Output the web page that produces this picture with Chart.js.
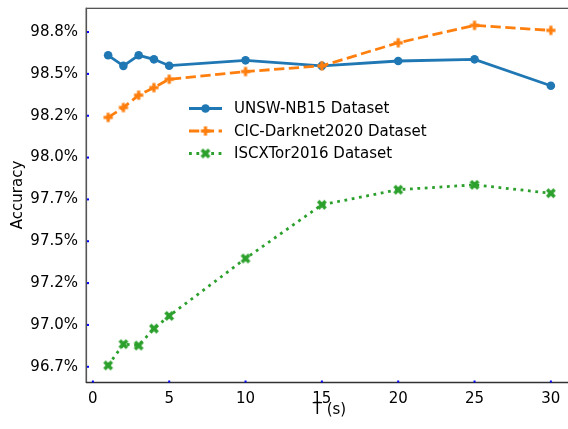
<!DOCTYPE html>
<html>
<head>
<meta charset="utf-8">
<script src="https://cdn.jsdelivr.net/npm/chart.js@4/dist/chart.umd.min.js"></script>
<style>
html,body{margin:0;padding:0;background:#fff;overflow:hidden;width:568px;height:429px;}
#wrap{width:600px;height:429px;position:absolute;left:0;top:0;}
canvas{display:block;}
</style>
</head>
<body>
<div id="wrap"><canvas id="c" width="600" height="429" style="width:600px;height:429px"></canvas></div>
<script>
// ---- data ----
const T = [1, 2, 3, 4, 5, 10, 15, 20, 25, 30];
const unsw = [98.611, 98.548, 98.611, 98.587, 98.549, 98.581, 98.548, 98.577, 98.587, 98.429];
const darknet = [98.240, 98.299, 98.373, 98.418, 98.468, 98.514, 98.548, 98.686, 98.790, 98.760];
const iscx = [96.758, 96.885, 96.877, 96.978, 97.054, 97.397, 97.718, 97.808, 97.837, 97.787];
const seriesNames = ['UNSW-NB15 Dataset', 'CIC-Darknet2020 Dataset', 'ISCXTor2016 Dataset'];
const yTickValues = [96.75, 97.0, 97.25, 97.5, 97.75, 98.0, 98.25, 98.5, 98.75];
const yTickLabels = ['96.7%', '97.0%', '97.2%', '97.5%', '97.7%', '98.0%', '98.2%', '98.5%', '98.8%'];
const xTickValues = [0, 5, 10, 15, 20, 25, 30];
const xTickLabels = ['0', '5', '10', '15', '20', '25', '30'];
const xTitle = 'T (s)';

const BLUE = '#1f77b4', ORANGE = '#ff7f0e', GREEN = '#2ca02c';
const FONT = 'DejaVu Sans';

function makeMarker(kind, color) {
  const s = 12, c = document.createElement('canvas');
  c.width = s; c.height = s;
  const g = c.getContext('2d');
  g.fillStyle = color;
  g.translate(s / 2, s / 2);
  if (kind === 'X') g.rotate(Math.PI / 4);
  const a = kind === 'X' ? 5.2 : 4.6, w = kind === 'X' ? 1.8 : 1.6;
  g.fillRect(-a, -w, 2 * a, 2 * w);
  g.fillRect(-w, -a, 2 * w, 2 * a);
  return c;
}
const plusMarker = makeMarker('P', ORANGE);
const xMarker = makeMarker('X', GREEN);

const pts = ys => T.map((t, i) => ({x: t, y: ys[i]}));

const LW = 2.78;
const datasets = [
  {label: seriesNames[0], data: pts(unsw), borderColor: BLUE, backgroundColor: BLUE,
   borderWidth: LW, pointStyle: 'circle', pointRadius: 4.3, pointBorderWidth: 0, order: 3},
  {label: seriesNames[1], data: pts(darknet), borderColor: ORANGE, backgroundColor: ORANGE,
   borderWidth: LW, borderDash: [10.3, 4.5], pointStyle: plusMarker, pointRadius: 5, order: 2},
  {label: seriesNames[2], data: pts(iscx), borderColor: GREEN, backgroundColor: GREEN,
   borderWidth: LW, borderDash: [2.8, 4.6], pointStyle: xMarker, pointRadius: 5, order: 1}
];
datasets.forEach(d => { d.tension = 0; d.fill = false; d.borderCapStyle = 'butt'; d.pointHoverRadius = d.pointRadius; });

const decor = {
  id: 'decor',
  afterDraw(chart) {
    const {ctx, chartArea: a, scales} = chart;
    ctx.save();
    // spines
    ctx.strokeStyle = '#222'; ctx.lineWidth = 1;
    ctx.beginPath(); ctx.moveTo(a.left, a.top + 0.5); ctx.lineTo(a.right, a.top + 0.5); ctx.stroke();
    ctx.strokeStyle = '#555'; ctx.lineWidth = 1.6;
    ctx.beginPath(); ctx.moveTo(a.left + 0.3, a.top); ctx.lineTo(a.left + 0.3, a.bottom + 1); ctx.stroke();
    ctx.strokeStyle = '#333'; ctx.lineWidth = 1.6;
    ctx.beginPath(); ctx.moveTo(a.left, a.bottom + 0.5); ctx.lineTo(a.right, a.bottom + 0.5); ctx.stroke();
    // blue tick dots inside axes
    ctx.fillStyle = '#0000ff';
    yTickValues.forEach(v => {
      const y = scales.y.getPixelForValue(v);
      ctx.fillRect(a.left + 1, y - 1, 2, 2);
    });
    xTickValues.forEach(v => {
      const x = scales.x.getPixelForValue(v);
      ctx.fillRect(x - 1, a.bottom - 1.5, 2, 2);
    });
    // x tick labels and title
    ctx.font = '15px "' + FONT + '"';
    ctx.fillStyle = '#000';
    ctx.textAlign = 'center';
    ctx.textBaseline = 'alphabetic';
    xTickValues.forEach((v, i) => {
      ctx.fillText(xTickLabels[i], scales.x.getPixelForValue(v), a.bottom + 21);
    });
    ctx.fillText(xTitle, (a.left + a.right) / 2, a.bottom + 31.5);
    // legend
    const lx0 = 189, lx1 = 222, tx = 234, rows = [108.5, 131, 153.5];
    ctx.textAlign = 'left';
    ctx.textBaseline = 'middle';
    chart.data.datasets.forEach((d, i) => {
      const y = rows[i];
      ctx.strokeStyle = d.borderColor; ctx.lineWidth = LW; ctx.lineCap = 'butt';
      ctx.setLineDash(d.borderDash || []);
      ctx.beginPath(); ctx.moveTo(lx0, y); ctx.lineTo(lx1, y); ctx.stroke();
      ctx.setLineDash([]);
      const cx = (lx0 + lx1) / 2;
      if (d.pointStyle === 'circle') {
        ctx.fillStyle = d.backgroundColor;
        ctx.beginPath(); ctx.arc(cx, y, d.pointRadius, 0, Math.PI * 2); ctx.fill();
      } else {
        ctx.drawImage(d.pointStyle, cx - d.pointStyle.width / 2, y - d.pointStyle.height / 2);
      }
      ctx.fillStyle = '#000';
      ctx.fillText(d.label, tx, y + 1);
    });
    ctx.restore();
  }
};

new Chart(document.getElementById('c'), {
  type: 'line',
  data: {datasets},
  options: {
    responsive: false,
    animation: false,
    devicePixelRatio: 1,
    layout: {padding: {left: 0, top: 7, right: 27, bottom: 0}},
    plugins: {legend: {display: false}, tooltip: {enabled: false}},
    scales: {
      x: {
        type: 'linear', min: -0.45, max: 31.45,
        afterBuildTicks: s => { s.ticks = xTickValues.map(v => ({value: v})); },
        afterFit: s => { s.height = 47; s.paddingLeft = 0; s.paddingRight = 0; },
        grid: {display: false, drawTicks: false},
        border: {display: false},
        ticks: {display: false},
        title: {display: false}
      },
      y: {
        type: 'linear', min: 96.659, max: 98.895,
        afterBuildTicks: s => { s.ticks = yTickValues.map(v => ({value: v})); },
        afterFit: s => { s.width = 86; s.paddingTop = 0; s.paddingBottom = 0; },
        grid: {display: false, drawTicks: false},
        border: {display: false},
        ticks: {color: '#000', font: {family: FONT, size: 15}, padding: 8, autoSkip: false,
                callback: (v, i) => yTickLabels[yTickValues.indexOf(v)] ?? yTickLabels[i]},
        title: {display: true, text: 'Accuracy', color: '#000', font: {family: FONT, size: 15},
                padding: {top: 9, bottom: 0}}
      }
    }
  },
  plugins: [decor]
});
</script>
</body>
</html>
